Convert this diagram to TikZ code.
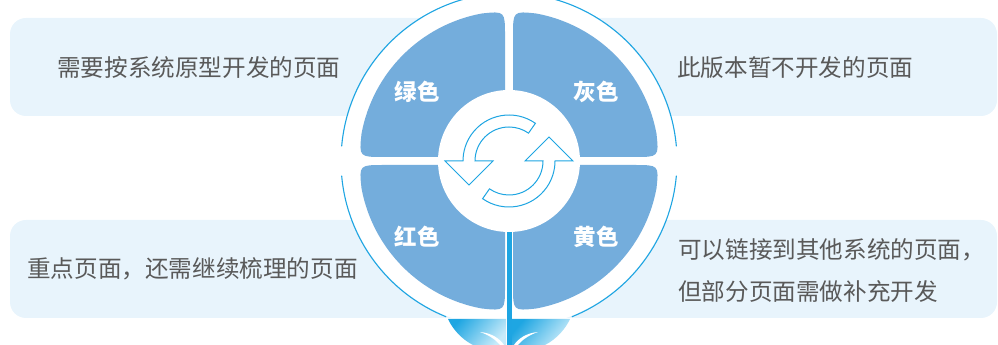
\documentclass[tikz,border=0pt]{standalone}
\usepackage{fontspec}
\newfontfamily\cjk{Noto Sans CJK SC}
\usetikzlibrary{calc}
\definecolor{boxbg}{RGB}{232,244,252}
\definecolor{petalblue}{RGB}{116,173,220}
\definecolor{ring}{RGB}{30,165,226}
\definecolor{txt}{RGB}{89,89,89}
\definecolor{leafdark}{RGB}{30,166,226}
\definecolor{leaflight}{RGB}{200,235,250}

\begin{document}
\begin{tikzpicture}[x=1pt,y=1pt,
  band/.style={fill=boxbg, rounded corners=16pt},
  desc/.style={anchor=west, inner sep=0pt, text=txt, font=\cjk\fontsize{23.6}{28}\selectfont},
  tag/.style={inner sep=0pt, text=white, font=\cjk\bfseries\fontsize{22.5}{26}\selectfont},
  outline/.style={draw=ring, line width=1.1pt},
  icon/.style={draw=ring, fill=white, line width=1pt, line join=miter},
  leaf/.style={left color=leafdark, right color=leaflight, shading angle=50}
]
\useasboundingbox (0,0) rectangle (998,345);
\coordinate (c) at (509,184);

% pale background bands behind the texts
\fill[band] (10,229) rectangle (997,327);
\fill[band] (10,27) rectangle (997,125);

% white flower head with its thin outline
\fill[white] (c) circle[radius=167];
\draw[outline] ($(c)+(5:168)$) arc[start angle=5, end angle=175, radius=168];
\draw[outline] ($(c)+(185:168)$) arc[start angle=185, end angle=248, radius=168];
\draw[outline] ($(c)+(292:168)$) arc[start angle=292, end angle=355, radius=168];

% four petals, each a quarter disc with well rounded outer corners
\foreach \sx/\sy in {1/1,-1/1,1/-1,-1/-1}{
  \begin{scope}[shift={(c)}, xscale=\sx, yscale=\sy]
    \fill[petalblue] (-4,4) -- (-4,124.95) .. controls (-4,149.95) .. (100.5:150)
      arc[start angle=100.5, end angle=169.5, radius=150]
      .. controls (-149.95,4) .. (-124.95,4) -- cycle;
  \end{scope}
}

% leaves at the foot of the stem
\foreach \m in {1,-1}{
  \begin{scope}[shift={(509,0)}, xscale=\m]
    \shade[leaf] (-61,26) -- (-3,26) -- (-3,0) -- (-36,0)
      .. controls (-48,6) and (-57,17) .. (-61,26) -- cycle;
    \fill[white] (-29,13) .. controls (-17,12) and (-9,6) .. (-5,0) -- (-9,0)
      .. controls (-13,5) and (-20,10) .. (-29,13) -- cycle;
  \end{scope}
}

% hub and stem
\node[circle, fill=white, minimum size=142pt, inner sep=0pt] (hub) at (c) {};
\coordinate (stembot) at (509,0);
\draw[ring, line width=5pt] (hub.south) -- (stembot);

% cycle icon in the hub
\begin{scope}[shift={(c)}]
  \foreach \r in {0,180}{
    \draw[icon, rotate=\r] (55:46) arc[start angle=55, end angle=180, radius=46]
      -- (-64,0) -- (-40,-24) -- (-16,0) -- (-34,0)
      arc[start angle=180, end angle=55, radius=34] -- cycle;
  }
\end{scope}

% petal labels
\node[tag] (green)  at (417,253) {绿色};
\node[tag] (grey)   at (596,253) {灰色};
\node[tag] (red)    at (417,108) {红色};
\node[tag] (yellow) at (596,108) {黄色};

% descriptions
\node[desc] (dgreen)   at (57,277)  {需要按系统原型开发的页面};
\node[desc] (dgrey)    at (677,277) {此版本暂不开发的页面};
\node[desc] (dred)     at (27,76)   {重点页面，还需继续梳理的页面};
\node[desc] (dyellow)  at (678,95)  {可以链接到其他系统的页面，};
\node[desc] (dyellow2) at (678,53)  {但部分页面需做补充开发};
\end{tikzpicture}
\end{document}
